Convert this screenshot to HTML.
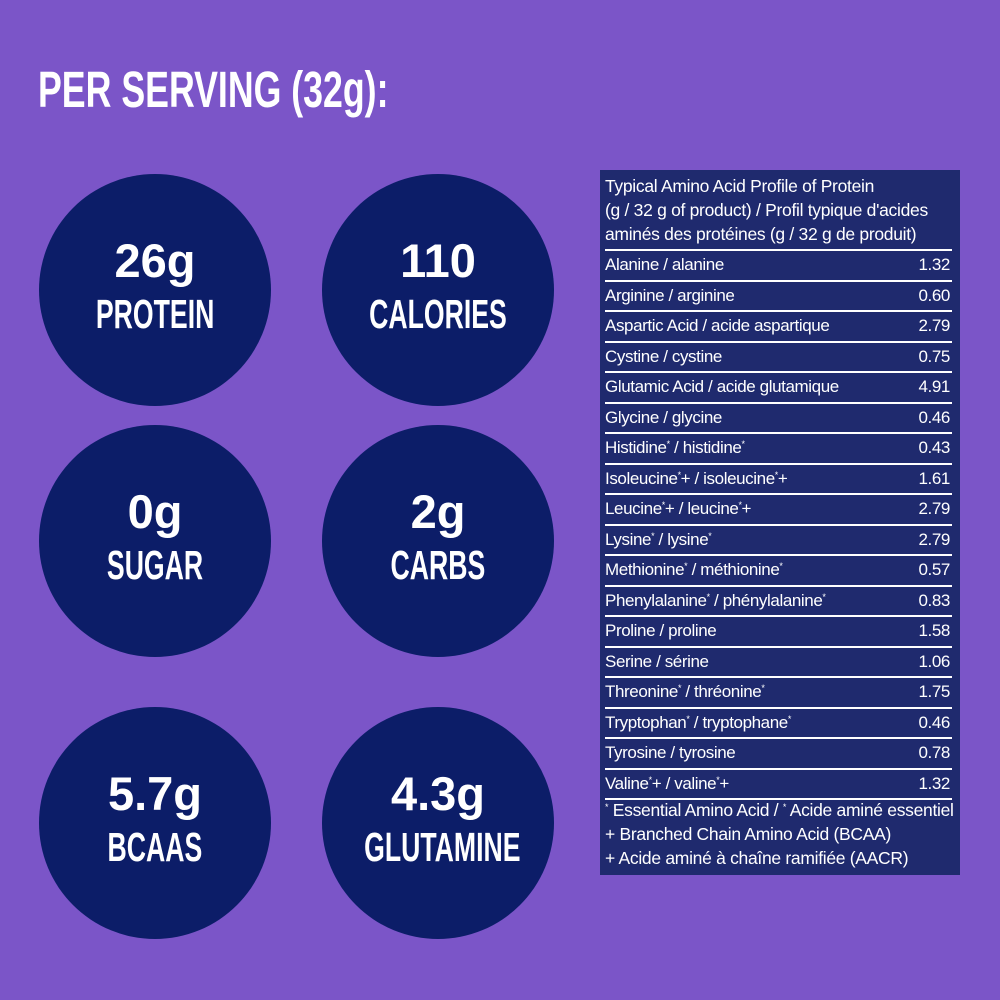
<!DOCTYPE html>
<html><head><meta charset="utf-8"><style>
body{margin:0;width:1000px;height:1000px;background:#7b55c8;position:relative;overflow:hidden;font-family:"Liberation Sans",sans-serif;color:#fff}
.t{position:absolute;left:38px;top:64px;font-weight:bold;font-size:51px;line-height:51px;transform:scaleX(0.70);transform-origin:0 0;white-space:nowrap}
.c{position:absolute;width:232px;height:232px;border-radius:50%;background:#0c1d68}
.big,.sm{position:absolute;left:0;width:100%;text-align:center;white-space:nowrap}
.big{font-size:47px;font-weight:bold;line-height:50px;top:62px}
.sm span{display:inline-block;transform:scaleX(0.65);font-weight:bold;font-size:41px;line-height:44px}
.sm{top:118px}
.tb{position:absolute;left:600px;top:170px;width:360px;height:705px;background:#1f2a6e}
.r{position:absolute;left:5px;right:8px;height:30.5px;border-top:2px solid #fff;font-size:17px;line-height:28px;box-sizing:border-box;letter-spacing:-0.4px;white-space:nowrap}
.r b{font-weight:normal;position:absolute;right:2px;top:0}
.h{position:absolute;left:5px;top:4px;font-size:17.5px;line-height:24px;letter-spacing:-0.3px;white-space:nowrap}
.f{position:absolute;left:5px;top:628px;font-size:17.5px;line-height:24px;letter-spacing:-0.3px;white-space:nowrap}
sup{font-size:9px;line-height:0;vertical-align:6px}
</style></head><body>
<div class="t">PER SERVING (32g):</div>
<div class="c" style="left:39px;top:174px"><div class="big">26g</div><div class="sm"><span>PROTEIN</span></div></div>
<div class="c" style="left:322px;top:174px"><div class="big">110</div><div class="sm"><span>CALORIES</span></div></div>
<div class="c" style="left:39px;top:425px"><div class="big">0g</div><div class="sm"><span>SUGAR</span></div></div>
<div class="c" style="left:322px;top:425px"><div class="big">2g</div><div class="sm"><span>CARBS</span></div></div>
<div class="c" style="left:39px;top:707px"><div class="big">5.7g</div><div class="sm"><span>BCAAS</span></div></div>
<div class="c" style="left:322px;top:707px"><div class="big">4.3g</div><div class="sm"><span>GLUTAMINE</span></div></div>
<div class="tb">
<div class="h">Typical Amino Acid Profile of Protein<br>(g / 32 g of product) / Profil typique d'acides<br>aminés des protéines (g / 32 g de produit)</div>
<div class="r" style="top:79px">Alanine / alanine<b>1.32</b></div>
<div class="r" style="top:109.5px">Arginine / arginine<b>0.60</b></div>
<div class="r" style="top:140px">Aspartic Acid / acide aspartique<b>2.79</b></div>
<div class="r" style="top:170.5px">Cystine / cystine<b>0.75</b></div>
<div class="r" style="top:201px">Glutamic Acid / acide glutamique<b>4.91</b></div>
<div class="r" style="top:231.5px">Glycine / glycine<b>0.46</b></div>
<div class="r" style="top:262px">Histidine<sup>*</sup> / histidine<sup>*</sup><b>0.43</b></div>
<div class="r" style="top:292.5px">Isoleucine<sup>*</sup>+ / isoleucine<sup>*</sup>+<b>1.61</b></div>
<div class="r" style="top:323px">Leucine<sup>*</sup>+ / leucine<sup>*</sup>+<b>2.79</b></div>
<div class="r" style="top:353.5px">Lysine<sup>*</sup> / lysine<sup>*</sup><b>2.79</b></div>
<div class="r" style="top:384px">Methionine<sup>*</sup> / méthionine<sup>*</sup><b>0.57</b></div>
<div class="r" style="top:414.5px">Phenylalanine<sup>*</sup> / phénylalanine<sup>*</sup><b>0.83</b></div>
<div class="r" style="top:445px">Proline / proline<b>1.58</b></div>
<div class="r" style="top:475.5px">Serine / sérine<b>1.06</b></div>
<div class="r" style="top:506px">Threonine<sup>*</sup> / thréonine<sup>*</sup><b>1.75</b></div>
<div class="r" style="top:536.5px">Tryptophan<sup>*</sup> / tryptophane<sup>*</sup><b>0.46</b></div>
<div class="r" style="top:567px">Tyrosine / tyrosine<b>0.78</b></div>
<div class="r" style="top:597.5px">Valine<sup>*</sup>+ / valine<sup>*</sup>+<b>1.32</b></div>
<div class="r" style="top:628px;height:2px"></div>
<div class="f"><sup>*</sup> Essential Amino Acid / <sup>*</sup> Acide aminé essentiel<br>+ Branched Chain Amino Acid (BCAA)<br>+ Acide aminé à chaîne ramifiée (AACR)</div>
</div>
</body></html>
